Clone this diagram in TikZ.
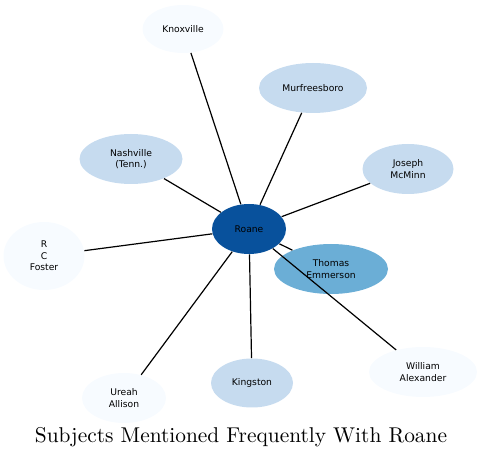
\documentclass[tikz,border=0pt]{standalone}
\usepackage{fontspec}
\usepackage{xcolor}
\usetikzlibrary{shapes.geometric}
\newfontfamily\subjfont{DejaVu Sans}
\definecolor{blueA}{HTML}{F7FBFF}
\definecolor{blueB}{HTML}{C6DBEF}
\definecolor{blueC}{HTML}{6BAED6}
\definecolor{blueD}{HTML}{08519C}

\begin{document}
\begin{tikzpicture}[x=0.5pt, y=-0.5pt,
    subj/.style={ellipse, inner sep=0pt, align=center, font=\subjfont\fontsize{4.6}{5.8}\selectfont},
    link/.style={line width=0.6pt}]
            \useasboundingbox (0,0) rectangle (482,459);
            \node[subj, fill=blueA, minimum width=40.5pt, minimum height=24pt] (knox) at (183,29) {Knoxville};
            \node[subj, fill=blueB, minimum width=54pt, minimum height=25pt] (murf) at (313,88) {Murfreesboro};
            \node[subj, fill=blueB, minimum width=51.5pt, minimum height=25pt] (nash) at (131,159) {Nashville\\(Tenn.)};
            \node[subj, fill=blueB, minimum width=45.5pt, minimum height=25pt] (mcminn) at (408,169) {Joseph\\McMinn};
            \node[subj, fill=blueA, minimum width=40.5pt, minimum height=34pt] (foster) at (44,256) {R\\C\\Foster};
            \node[subj, fill=blueC, minimum width=57pt, minimum height=25pt] (emmer) at (331,269) {Thomas\\Emmerson};
            \node[subj, fill=blueA, minimum width=54pt, minimum height=25pt] (alex) at (423,372) {William\\Alexander};
            \node[subj, fill=blueB, minimum width=41pt, minimum height=24.5pt] (king) at (252,383) {Kingston};
            \node[subj, fill=blueA, minimum width=42pt, minimum height=25pt] (allison) at (124,398) {Ureah\\Allison};
            \node[subj, fill=blueD, minimum width=37pt, minimum height=25pt] (roane) at (249,229) {Roane};
            % links from the centre
            \foreach \other in {knox, murf, nash, mcminn, foster, emmer, alex, king, allison}
                \draw[link] (roane) -- (\other);
            \node[font=\fontsize{10.7}{13}\selectfont] (title) at (241,437) {Subjects Mentioned Frequently With Roane};
        \end{tikzpicture}
\end{document}
